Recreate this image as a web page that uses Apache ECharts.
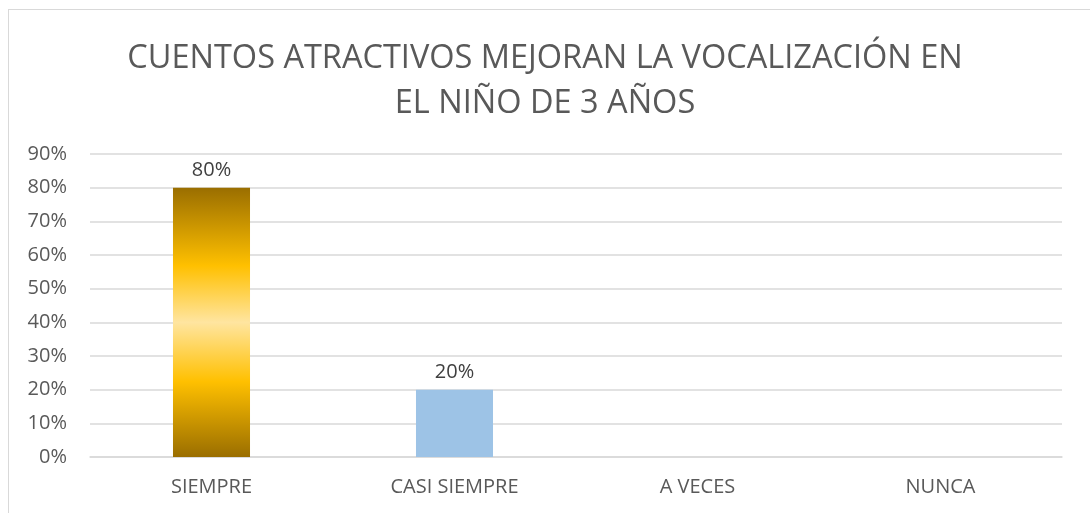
<!DOCTYPE html>
<html>
<head>
<meta charset="utf-8">
<script src="https://cdn.jsdelivr.net/npm/echarts@6/dist/echarts.min.js"></script>
<style>
	html, body { margin: 0; padding: 0; background: #fff; }
	.box { position: absolute; left: 8px; top: 9px; width: 1100px; height: 520px; border: 1px solid #d9d9d9; }
	.chart { position: absolute; left: 0; top: 0; width: 1090px; height: 513px; }
</style>
</head>
<body>
<div class="box"></div>
<div class="chart"></div>
<script>
var categories = ["SIEMPRE", "CASI SIEMPRE", "A VECES", "NUNCA"];
var values = [80, 20, 0, 0];
var yTicks = [0, 10, 20, 30, 40, 50, 60, 70, 80, 90];

(function () {
	var myChart = echarts.init(document.querySelector(".chart"));
	// 金色柱子：上下深，中间亮
	var gold = new echarts.graphic.LinearGradient(0, 0, 0, 1, [
		{ offset: 0, color: "#9a6e00" },
		{ offset: 0.29, color: "#ffc000" },
		{ offset: 0.5, color: "#ffe5a0" },
		{ offset: 0.72, color: "#ffc000" },
		{ offset: 1, color: "#9a6e00" }
	]);
	var barColors = [gold, "#9dc3e6", "#a5a5a5", "#ffc000"];
	var option = {
		animation: false,
		title: {
			text: "CUENTOS ATRACTIVOS MEJORAN LA VOCALIZACIÓN EN\nEL NIÑO DE 3 AÑOS",
			left: "center",
			top: 31,
			textStyle: {
				color: "#595959",
				fontFamily: "Open Sans",
				fontWeight: "normal",
				fontSize: 32.5,
				lineHeight: 45
			}
		},
		grid: {
			left: 90,
			right: 28,
			top: 154,
			bottom: 56
		},
		xAxis: {
			type: "category",
			data: categories,
			axisTick: { show: false },
			axisLine: { lineStyle: { color: "#d9d9d9", width: 1.5 } },
			axisLabel: {
				color: "#595959",
				fontFamily: "Open Sans",
				fontSize: 20,
				margin: 20
			}
		},
		yAxis: {
			type: "value",
			min: yTicks[0],
			max: yTicks[yTicks.length - 1],
			interval: 10,
			axisLine: { show: false },
			axisTick: { show: false },
			axisLabel: {
				color: "#595959",
				fontFamily: "Open Sans",
				fontSize: 20,
				margin: 23,
				formatter: "{value}%"
			},
			splitLine: { lineStyle: { color: "#d9d9d9", width: 1.5 } }
		},
		series: [
			{
				type: "bar",
				barWidth: "31.7%",
				data: values,
				itemStyle: {
					color: function (params) {
						return barColors[params.dataIndex];
					}
				},
				label: {
					show: true,
					position: "top",
					distance: 7,
					color: "#404040",
					fontFamily: "Open Sans",
					fontSize: 20,
					formatter: function (p) {
						return p.value ? p.value + "%" : "";
					}
				}
			}
		]
	};
	myChart.setOption(option);
	window.addEventListener("resize", function () {
		myChart.resize();
	});
})();
</script>
</body>
</html>
